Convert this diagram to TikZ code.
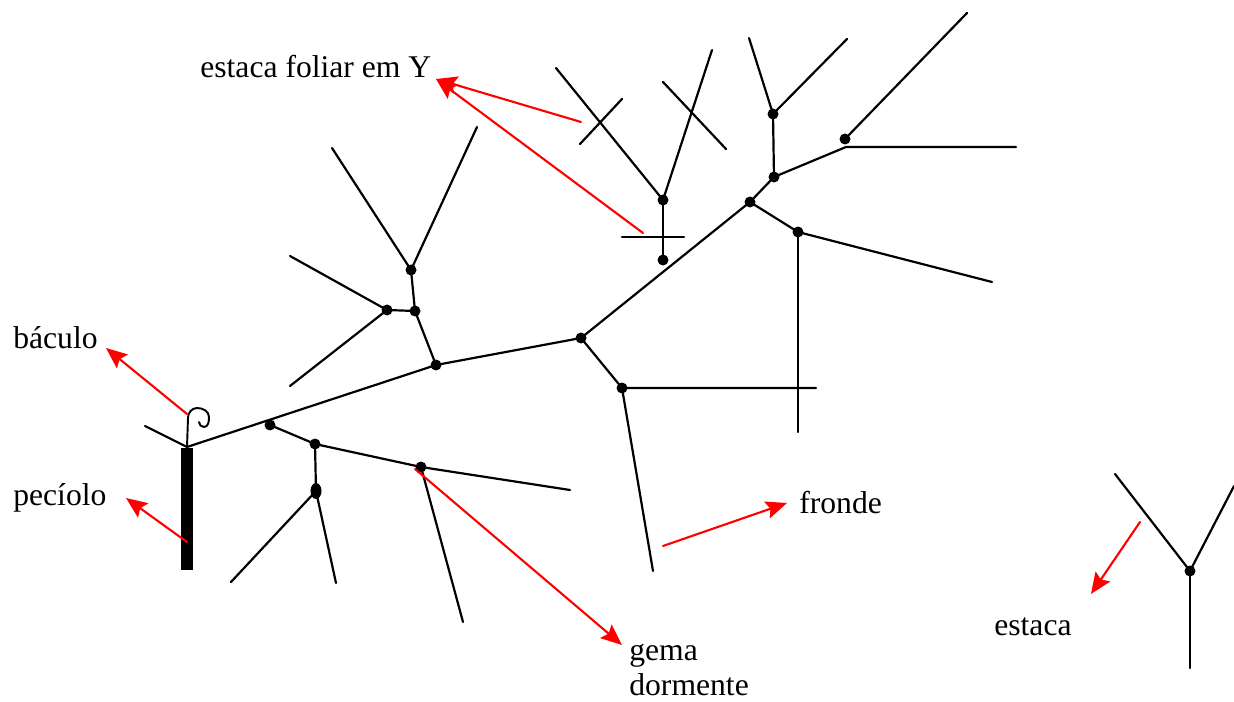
\documentclass[tikz,border=0pt]{standalone}
\usepackage{fontspec}
\setmainfont{Liberation Serif}
\usetikzlibrary{arrows.meta}

\begin{document}
\begin{tikzpicture}[
  x=0.02cm, y=-0.02cm,
  every path/.style={line cap=round, line join=round},
  frond/.style={line width=1.25pt},
  pointer/.style={red, line width=1.2pt, -{Stealth[length=12pt,width=10pt,inset=2pt]}},
  lbl/.style={anchor=base west, inner sep=0pt, font=\fontsize{18}{21}\selectfont}
]
\useasboundingbox (0,0) rectangle (1234,702);

% ---------------- Main rachis ----------------
\coordinate (base) at (187,447);
\coordinate (r1) at (436,365);
\coordinate (r2) at (581,338);
\coordinate (r3) at (750,202);
\coordinate (r4) at (774,177);
\coordinate (stub) at (145,426);
\draw[frond] (stub) -- (base) -- (r1) -- (r2) -- (r3) -- (r4);

% petiole and crozier
\fill (181,448) rectangle (193,570);
\draw[line width=1.1pt] (base) -- (188,418) to[out=90,in=180] (197,408)
  to[out=0,in=90] (209,417) to[out=-90,in=0] (204,427) to[out=180,in=-90] (199,422);

% ---------------- Lower pinna ----------------
\coordinate (p1) at (270,425);
\coordinate (p2) at (315,444);
\coordinate (p3) at (421,467);
\coordinate (p4) at (316,491);
\draw[frond] (p1) -- (p2) -- (p3) -- (570,490);
\draw[frond] (p2) -- (p4);
\draw[frond] (231,582) -- (p4) -- (336,583);
\draw[frond] (p3) -- (463,622);

% ---------------- Upper left pinna ----------------
\coordinate (u1) at (415,311);
\coordinate (u2) at (387,310);
\coordinate (u3) at (411,270);
\draw[frond] (r1) -- (u1) -- (u3);
\draw[frond] (u1) -- (u2);
\draw[frond] (290,256) -- (u2) -- (290,386);
\draw[frond] (332,148) -- (u3) -- (477,127);

% ---------------- Right pinnae ----------------
\coordinate (q1) at (622,388);
\coordinate (q2) at (798,232);
\draw[frond] (r2) -- (q1) -- (816,388);
\draw[frond] (q1) -- (653,571);
\draw[frond] (r3) -- (q2) -- (992,282);
\draw[frond] (q2) -- (798,432);

\coordinate (s1) at (773,114);
\coordinate (s2) at (846,147);
\coordinate (s3) at (845,139);
\draw[frond] (r4) -- (s1);
\draw[frond] (749,38) -- (s1) -- (847,39);
\draw[frond] (r4) -- (s2) -- (1016,147);
\draw[frond] (s3) -- (967,13);

% ---------------- Y-shaped leaf cutting ----------------
\coordinate (y0) at (663,260);
\coordinate (y1) at (663,200);
\draw[frond] (y0) -- (y1);
\draw[frond] (622,237) -- (684,237);
\draw[frond] (556,68) -- (y1) -- (712,50);
\draw[frond] (580,144) -- (622,99);
\draw[frond] (663,82) -- (726,149);

% ---------------- Cutting ----------------
\coordinate (e0) at (1190,571);
\draw[frond] (1115,474) -- (e0) -- (1234,486);
\draw[frond] (e0) -- (1190,668);

% buds
\foreach \b in {p1,p2,p3,r1,r2,r3,r4,u1,u2,u3,q1,q2,s1,s3,y0,y1,e0}
  \fill (\b) circle[radius=0.11cm];
\fill (p4) ellipse[x radius=0.11cm, y radius=0.16cm];

% ---------------- Labels ----------------
\node[lbl] (lY) at (200,78) {estaca foliar em Y};
\node[lbl] (lbac) at (13,349) {báculo};
\node[lbl] (lpec) at (13,505) {pecíolo};
\node[lbl] (lfro) at (799,513) {fronde};
\node[lbl] (lgem) at (629,660) {gema};
\node[lbl] (ldor) at (629,695) {dormente};
\node[lbl] (lest) at (994,635) {estaca};

% pointers
\coordinate (tY) at (436,79);
\coordinate (aY1) at (581,122);
\coordinate (aY2) at (643,233);
\coordinate (aBac) at (187,414);
\coordinate (tBac) at (106,348);
\coordinate (aPec) at (187,542);
\coordinate (tPec) at (126,498);
\coordinate (aGem) at (415,469);
\coordinate (tGem) at (622,645);
\coordinate (aFro) at (663,546);
\coordinate (tFro) at (787,503);
\coordinate (aEst) at (1140,522);
\coordinate (tEst) at (1091,594);
\draw[pointer] (aY1) -- (tY);
\draw[pointer] (aY2) -- (tY);
\draw[pointer] (aBac) -- (tBac);
\draw[pointer] (aPec) -- (tPec);
\draw[pointer] (aGem) -- (tGem);
\draw[pointer] (aFro) -- (tFro);
\draw[pointer] (aEst) -- (tEst);

\end{tikzpicture}
\end{document}
